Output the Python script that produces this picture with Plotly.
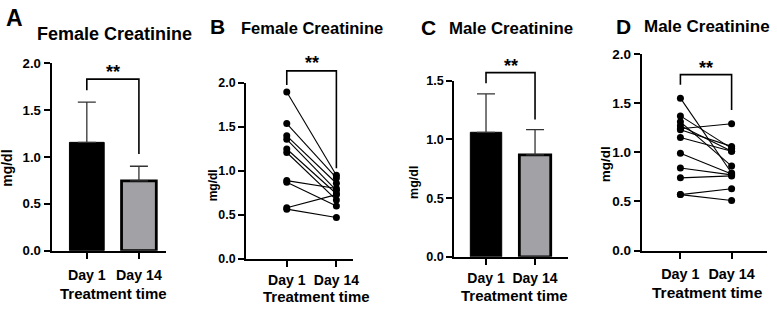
import plotly.graph_objects as go

W, H = 777, 311

categories = ["Day 1", "Day 14"]

# Panel A: female creatinine, mean + SD
fem_bar_mean = [1.155, 0.745]
fem_bar_sd = [0.43, 0.155]

# Panel B: female creatinine, individual paired values
fem_day1 = [1.90, 1.54, 1.40, 1.36, 1.25, 1.21, 0.89, 0.87, 0.58, 0.565]
fem_day14 = [0.95, 0.92, 0.86, 0.78, 0.74, 0.67, 0.80, 0.60, 0.73, 0.47]

# Panel C: male creatinine, mean + SD
male_bar_mean = [1.06, 0.868]
male_bar_sd = [0.327, 0.215]

# Panel D: male creatinine, individual paired values
male_day1 = [1.55, 1.37, 1.31, 1.27, 1.24, 1.23, 1.15, 0.99, 0.84, 0.74, 0.57, 0.57]
male_day14 = [0.79, 1.04, 0.86, 1.01, 1.29, 1.06, 1.01, 0.78, 0.77, 0.76, 0.63, 0.51]

# significance brackets: [left end, top, right end]
bracket_A = [1.71, 1.83, 1.03]
bracket_B = [1.98, 2.14, 1.03]
bracket_C = [1.478, 1.568, 1.168]
bracket_D = [1.686, 1.79, 1.43]
sig_label = "**"

ytick_vals_2 = [0, 0.5, 1.0, 1.5, 2.0]
ytick_text_2 = ["0.0", "0.5", "1.0", "1.5", "2.0"]
ytick_vals_15 = [0, 0.5, 1.0, 1.5]
ytick_text_15 = ["0.0", "0.5", "1.0", "1.5"]

FONT = "Liberation Sans, Arial, sans-serif"
BAR_COLORS = ["#000000", "#a2a2a6"]

# pixel geometry of each panel: axis left/right, category centres, y zero / top pixels, y max
panels = [
    dict(left=52, right=167, c0=87.5, c1=140, y0=256, ytop=59, ymax=2.0, bw=0.667, yfs=13.2, xfs=14.2, so=4),
    dict(left=248, right=356, c0=289, c1=339, y0=264.5, ytop=80, ymax=2.0, bw=None, yfs=12.4, xfs=14, so=1),
    dict(left=457.7, right=572.7, c0=489.8, c1=539.2, y0=262.5, ytop=77.3, ymax=1.5, bw=0.64, yfs=12.6, xfs=14, so=1),
    dict(left=646.7, right=772.7, c0=685.7, c1=737.3, y0=256, ytop=49.3, ymax=2.0, bw=None, yfs=13.5, xfs=14.4, so=3),
]

fig = go.Figure()
layout = {}

for i, p in enumerate(panels):
    n = i + 1
    unit = p["c1"] - p["c0"]
    xr = [-(p["c0"] - p["left"]) / unit, 1 + (p["right"] - p["c1"]) / unit]
    xdom = [p["left"] / W, p["right"] / W]
    ydom = [(H - p["y0"]) / H, (H - p["ytop"]) / H]
    tv, tt = (ytick_vals_2, ytick_text_2) if p["ymax"] == 2.0 else (ytick_vals_15, ytick_text_15)
    xk = "xaxis" if n == 1 else f"xaxis{n}"
    yk = "yaxis" if n == 1 else f"yaxis{n}"
    layout[xk] = dict(
        domain=xdom, range=xr, anchor=f"y{n}" if n > 1 else "y", showgrid=False, zeroline=False,
        showline=True, linecolor="black", linewidth=2,
        tickmode="array", tickvals=[0, 1], ticktext=categories,
        ticks="outside", ticklen=6, tickwidth=2, tickcolor="black", ticklabelstandoff=p["so"],
        tickfont=dict(family=FONT, size=p["xfs"], color="black", weight="bold"),
    )
    layout[yk] = dict(
        domain=ydom, range=[0, p["ymax"]], anchor=f"x{n}" if n > 1 else "x", showgrid=False, zeroline=False,
        showline=True, linecolor="black", linewidth=2,
        tickmode="array", tickvals=tv, ticktext=tt,
        ticks="outside", ticklen=6, tickwidth=2, tickcolor="black",
        tickfont=dict(family=FONT, size=p["yfs"], color="black", weight="bold"),
    )
    # overlay axes for brackets (extended upward, invisible)
    m = n + 4
    s = (p["y0"] - p["ytop"]) / p["ymax"]
    ext = p["ymax"] * 1.15
    layout[f"xaxis{m}"] = dict(domain=xdom, range=xr, anchor=f"y{m}", visible=False)
    layout[f"yaxis{m}"] = dict(domain=[(H - p["y0"]) / H, (H - (p["y0"] - ext * s)) / H],
                               range=[0, ext], anchor=f"x{m}", visible=False)

# Panel A bars
fig.add_trace(go.Bar(
    x=[0, 1], y=fem_bar_mean, width=panels[0]["bw"], xaxis="x", yaxis="y",
    marker=dict(color=BAR_COLORS, line=dict(color="black", width=[1, 2.8])),
    error_y=dict(type="data", array=fem_bar_sd, arrayminus=[0, 0], symmetric=False,
                 width=9, thickness=1.3, color="#333333"),
    showlegend=False,
))
# Panel C bars
fig.add_trace(go.Bar(
    x=[0, 1], y=male_bar_mean, width=panels[2]["bw"], xaxis="x3", yaxis="y3",
    marker=dict(color=BAR_COLORS, line=dict(color="black", width=[1, 2.8])),
    error_y=dict(type="data", array=male_bar_sd, arrayminus=[0, 0], symmetric=False,
                 width=9, thickness=1.3, color="#333333"),
    showlegend=False,
))


def paired(d1, d14):
    xs, ys = [], []
    for a, b in zip(d1, d14):
        xs += [0, 1, None]
        ys += [a, b, None]
    return xs, ys


for (d1, d14), (xa, ya) in [((fem_day1, fem_day14), ("x2", "y2")), ((male_day1, male_day14), ("x4", "y4"))]:
    xs, ys = paired(d1, d14)
    fig.add_trace(go.Scatter(
        x=xs, y=ys, xaxis=xa, yaxis=ya, mode="lines+markers",
        line=dict(color="black", width=1.1),
        marker=dict(color="black", size=7),
        cliponaxis=False, showlegend=False,
    ))

for k, br in enumerate([bracket_A, bracket_B, bracket_C, bracket_D]):
    m = k + 5
    fig.add_trace(go.Scatter(
        x=[0, 0, 1, 1], y=[br[0], br[1], br[1], br[2]],
        xaxis=f"x{m}", yaxis=f"y{m}", mode="lines",
        line=dict(color="black", width=1.6), showlegend=False, hoverinfo="skip",
    ))


def ann(text, x, y, size, xanchor="center", textangle=0):
    return dict(text=text, x=x / W, y=1 - y / H, xref="paper", yref="paper",
                xanchor=xanchor, yanchor="middle", showarrow=False, textangle=textangle,
                font=dict(family=FONT, size=size, color="black", weight="bold"))


annotations = [
    ann("A", 15, 12, 23),
    ann("Female Creatinine", 115, 28, 18),
    ann("B", 219, 21, 21),
    ann("Female Creatinine", 314, 22, 16.5),
    ann("C", 432, 22, 21),
    ann("Male Creatinine", 515, 23, 16.8),
    ann("D", 628, 20, 21),
    ann("Male Creatinine", 712, 20, 17),
    # axis titles
    ann("Treatment time", 114, 301, 15),
    ann("Treatment time", 319, 304.5, 15),
    ann("Treatment time", 518, 303, 15),
    ann("Treatment time", 713, 300, 15.5),
    ann("mg/dl", 7, 169, 14, textangle=-90),
    ann("mg/dl", 215, 187, 12, textangle=-90),
    ann("mg/dl", 417, 184, 12.5, textangle=-90),
    ann("mg/dl", 610, 165, 13.5, textangle=-90),
    # significance stars
    ann(sig_label, 114, 68, 18),
    ann(sig_label, 314, 59, 18),
    ann(sig_label, 515, 62, 18),
    ann(sig_label, 711, 64, 18),
]

fig.update_layout(
    width=W, height=H, autosize=False,
    margin=dict(l=0, r=0, t=0, b=0),
    paper_bgcolor="white", plot_bgcolor="rgba(0,0,0,0)",
    showlegend=False, annotations=annotations,
    **layout,
)

fig.write_html("out.html")
